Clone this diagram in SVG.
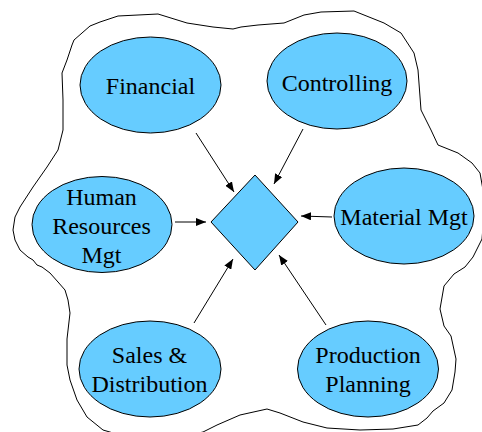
<svg xmlns="http://www.w3.org/2000/svg" width="482" height="432" viewBox="0 0 482 432">
<style>
.shape { fill: #66CCFF; stroke: #000; stroke-width: 1; }
.edge { stroke: #000; stroke-width: 1; fill: none; }
.lbl { font-family: "Liberation Serif", "Times New Roman", serif; font-size: 24px; text-anchor: middle; fill: #000; }
</style>
<defs>
<marker id="arrow" viewBox="0 0 10 8" refX="10" refY="4" markerWidth="10" markerHeight="8" markerUnits="userSpaceOnUse" orient="auto">
<path d="M0,0 L10,4 L0,8 Z" fill="#000"/>
</marker>
</defs>
<rect width="482" height="432" fill="#fff"/>
<path fill="none" stroke="#000" stroke-width="1" stroke-linejoin="round" d="M74,40 L82,33 L90,26 L100,22 L118,16 L158,14 L187,23 L213,27 L233,29 L241,27 L258,25 L284,23 L304,15 L321,12 L354,11 L384,23 L401,33 L414,53 L418,70 L421,110 L431,130 L438,145 L443,147 L458,153 L472,163 L480,173 L483,190 L484,215 L482,239 L473,257 L465,267 L454,274 L444,286 L440,309 L444,326 L451,336 L456,359 L455,372 L452,390 L444,403 L433,411 L427,418 L418,425 L393,429 L360,430 L327,428 L303,422 L280,413 L267,409 L240,415 L217,425 L203,432 L190,435 L120,435 L103,430 L87,417 L77,400 L70,380 L67,365 L67,339 L70,313 L68,300 L65,290 L58,282 L50,273 L42,267 L37,265 L33,260 L28,257 L20,250 L15,240 L13,230 L15,217 L20,207 L33,187 L47,167 L58,150 L63,130 L63,100 L62,73 L67,60 L72,45 Z"/>
<g id="connectors">
<line class="edge" x1="196" y1="133" x2="234" y2="192" marker-end="url(#arrow)"/>
<line class="edge" x1="303" y1="129" x2="274" y2="184" marker-end="url(#arrow)"/>
<line class="edge" x1="332" y1="217" x2="301" y2="216" marker-end="url(#arrow)"/>
<line class="edge" x1="175" y1="222" x2="206" y2="222" marker-end="url(#arrow)"/>
<line class="edge" x1="194" y1="323" x2="233" y2="259" marker-end="url(#arrow)"/>
<line class="edge" x1="326" y1="325" x2="279" y2="255" marker-end="url(#arrow)"/>
</g>
<g id="financial">
<ellipse class="shape" cx="150.5" cy="85" rx="70.5" ry="48"/>
<text class="lbl" x="150.5" y="94" font-family="Liberation Serif">Financial</text>
</g>
<g id="controlling">
<ellipse class="shape" cx="337" cy="81" rx="70" ry="48"/>
<text class="lbl" x="337" y="90.5" font-family="Liberation Serif">Controlling</text>
</g>
<g id="human-resources">
<ellipse class="shape" cx="102" cy="224.5" rx="70" ry="48"/>
<text class="lbl" x="101.5" y="204.5" font-family="Liberation Serif">Human</text>
<text class="lbl" x="101.5" y="233.5" font-family="Liberation Serif">Resources</text>
<text class="lbl" x="101.5" y="262.5" font-family="Liberation Serif">Mgt</text>
</g>
<g id="material">
<ellipse class="shape" cx="404" cy="216" rx="70" ry="48"/>
<text class="lbl" x="404" y="225" font-family="Liberation Serif">Material Mgt</text>
</g>
<g id="sales">
<ellipse class="shape" cx="150" cy="369" rx="71" ry="48"/>
<text class="lbl" x="149.5" y="362.5" font-family="Liberation Serif">Sales &amp;</text>
<text class="lbl" x="149.5" y="391.5" font-family="Liberation Serif">Distribution</text>
</g>
<g id="production">
<ellipse class="shape" cx="368" cy="369" rx="70.5" ry="48"/>
<text class="lbl" x="368" y="362.5" font-family="Liberation Serif">Production</text>
<text class="lbl" x="368" y="391.5" font-family="Liberation Serif">Planning</text>
</g>
<g id="center">
<polygon class="shape" points="255,175 298,222 255,270 211,222"/>
</g>
</svg>
